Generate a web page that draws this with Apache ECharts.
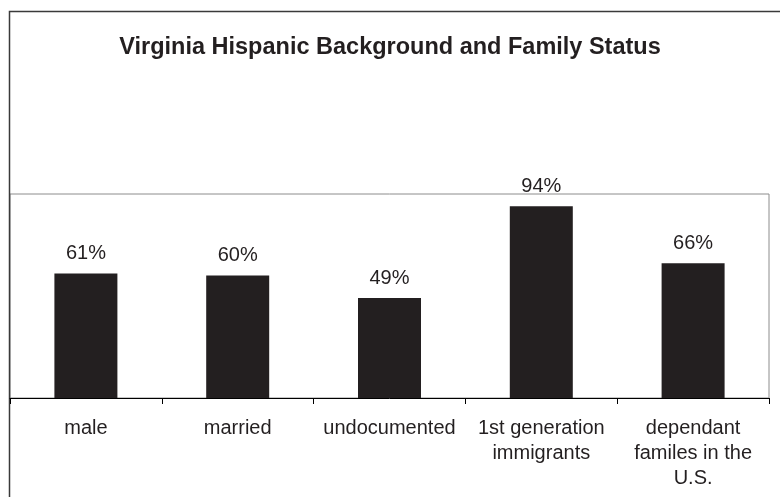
<!DOCTYPE html>
<html>
<head>
    <meta charset="utf-8">
    <title>Virginia Hispanic Background and Family Status</title>
    <script src="https://cdn.jsdelivr.net/npm/echarts@6/dist/echarts.min.js"></script>
    <style>
        body { margin: 0; background: #fff; }
    </style>
</head>
<body>
    <div id="main" style="width: 780px;height:497px;"></div>
    <script type="text/javascript">
        // data
        var categories = ['male', 'married', 'undocumented', '1st generation\nimmigrants', 'dependant\nfamiles in the\nU.S.'];
        var percents = [61, 60, 49, 94, 66];

        var dom = document.getElementById('main');
        var myChart = echarts.init(dom);

        var textColor = '#231f20';

        var option = {
            backgroundColor: '#fff',
            animation: false,
            title: {
                text: 'Virginia Hispanic Background and Family Status',
                left: 'center',
                top: 31,
                textStyle: {
                    fontFamily: 'Liberation Sans, Arial, sans-serif',
                    fontSize: 23.5,
                    fontWeight: 'bold',
                    color: textColor
                }
            },
            // outer frame of the chart (runs off right and bottom edge)
            graphic: [{
                type: 'rect',
                shape: { x: 9.5, y: 11.5, width: 820, height: 600 },
                style: { fill: null, stroke: '#3a3a3a', lineWidth: 1.5 },
                silent: true
            }],
            grid: {
                left: 10,
                right: 11,
                top: 194,
                bottom: 99,
                show: true,
                borderColor: '#8c8c8c',
                borderWidth: 1,
                containLabel: false
            },
            xAxis: {
                type: 'category',
                data: categories,
                axisLine: { lineStyle: { color: '#000', width: 1 } },
                axisTick: {
                    show: true,
                    alignWithLabel: false,
                    length: 6,
                    lineStyle: { color: '#000' }
                },
                axisLabel: {
                    interval: 0,
                    margin: 18,
                    fontFamily: 'Liberation Sans, Arial, sans-serif',
                    fontSize: 20,
                    lineHeight: 25,
                    color: textColor
                }
            },
            yAxis: {
                type: 'value',
                min: 0,
                max: 100,
                show: false,
                splitLine: { show: false }
            },
            series: [{
                type: 'bar',
                data: percents,
                barWidth: 63,
                itemStyle: { color: '#231f20' },
                label: {
                    show: true,
                    position: 'top',
                    distance: 10,
                    formatter: '{c}%',
                    fontFamily: 'Liberation Sans, Arial, sans-serif',
                    fontSize: 20,
                    color: textColor
                }
            }]
        };

        myChart.setOption(option);
    </script>
</body>
</html>
